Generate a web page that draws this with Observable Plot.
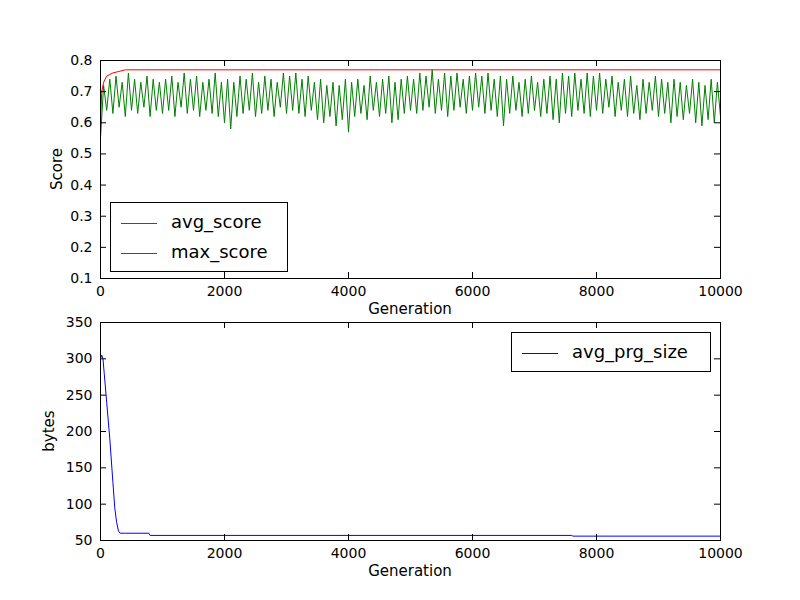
<!DOCTYPE html>
<html><head><meta charset="utf-8">
<script src="https://cdn.jsdelivr.net/npm/d3@7"></script>
<script src="https://cdn.jsdelivr.net/npm/@observablehq/plot@0.6"></script>
<style>
body{margin:0;background:#fff;font-family:"DejaVu Sans",sans-serif;}
#wrap{position:relative;width:800px;height:600px;}
.leg{position:absolute;background:#fff;border:1px solid #000;font-size:18px;padding:4px 10px;line-height:30px;}
.leg span.sw{display:inline-block;width:36px;height:0;border-top:1.3px solid;vertical-align:middle;margin-right:14px;}
svg{display:block}
</style></head><body><div id="wrap"></div>
<script>
const scoreStep = 50;
const avgScore = [0.55,0.72,0.64,0.74,0.63,0.75,0.65,0.73,0.62,0.76,0.64,0.74,0.63,0.73,0.65,0.75,0.62,0.74,0.64,0.73,0.63,
0.74,0.64,0.75,0.62,0.73,0.65,0.76,0.63,0.74,0.64,0.75,0.62,0.73,0.64,0.74,0.63,0.76,0.62,0.73,0.60,
0.74,0.58,0.73,0.62,0.75,0.63,0.74,0.64,0.76,0.62,0.73,0.63,0.75,0.64,0.74,0.62,0.73,0.65,0.76,0.63,
0.75,0.64,0.76,0.63,0.74,0.62,0.75,0.64,0.73,0.61,0.74,0.60,0.72,0.62,0.73,0.59,0.72,0.61,0.74,0.57,
0.73,0.62,0.74,0.63,0.72,0.61,0.75,0.64,0.73,0.62,0.74,0.63,0.75,0.60,0.73,0.61,0.74,0.63,0.75,0.64,
0.74,0.63,0.76,0.64,0.75,0.65,0.77,0.63,0.74,0.64,0.76,0.62,0.75,0.64,0.76,0.65,0.74,0.63,0.75,0.64,
0.76,0.65,0.75,0.63,0.76,0.64,0.74,0.62,0.75,0.59,0.74,0.63,0.75,0.64,0.73,0.62,0.74,0.63,0.75,0.64,
0.73,0.62,0.74,0.63,0.75,0.61,0.74,0.60,0.76,0.63,0.75,0.62,0.76,0.64,0.74,0.63,0.76,0.62,0.75,0.64,
0.76,0.63,0.74,0.65,0.75,0.62,0.73,0.64,0.74,0.62,0.75,0.63,0.72,0.61,0.74,0.63,0.73,0.64,0.75,0.62,
0.74,0.63,0.73,0.60,0.74,0.62,0.73,0.61,0.72,0.63,0.74,0.60,0.73,0.59,0.72,0.61,0.74,0.60,0.73,0.62];
const maxGen = [0,20,50,100,150,200,300,400,10000];
const maxScore = [0.60,0.70,0.73,0.75,0.755,0.76,0.765,0.77,0.77];
const sizeGen = [0,20,40,60,100,150,200,230,260,290,320,400,780,800,7600,7620,10000];
const sizeVal = [300,305,300,280,240,190,130,95,75,63,60,60,60,57,57,56,56];
const xTicks = [0,2000,4000,6000,8000,10000];
const yTicksTop = [0.1,0.2,0.3,0.4,0.5,0.6,0.7,0.8];
const yTicksBot = [50,100,150,200,250,300,350];

const scoreData = avgScore.map((v,i)=>({x:i*scoreStep,y:v}));
const maxData = maxGen.map((g,i)=>({x:g,y:maxScore[i]}));
const sizeData = sizeGen.map((g,i)=>({x:g,y:sizeVal[i]}));

function inTicks(yd){
  const ty=(yd[1]-yd[0])*6/218;
  return [
    Plot.ruleX(xTicks.slice(1,-1),{x:d=>d,y1:yd[0],y2:yd[0]+ty,stroke:"#000"}),
    Plot.ruleX(xTicks.slice(1,-1),{x:d=>d,y1:yd[1],y2:yd[1]-ty,stroke:"#000"}),
  ];
}
function yIn(ticks, xd, yd){
  const tx=(xd[1]-xd[0])*6/620;
  const t=ticks.filter(v=>v>yd[0]&&v<yd[1]);
  return [
    Plot.ruleY(t,{y:d=>d,x1:xd[0],x2:xd[0]+tx,stroke:"#000"}),
    Plot.ruleY(t,{y:d=>d,x1:xd[1],x2:xd[1]-tx,stroke:"#000"}),
  ];
}
const common = {width:800,height:300,marginLeft:100,marginRight:80,
  style:{fontFamily:"DejaVu Sans",fontSize:"14px",color:"#000"}};
const xd=[0,10000];
const topChart = Plot.plot({...common, marginTop:60, marginBottom:22,
  x:{domain:xd,ticks:xTicks,tickSize:0,tickPadding:8,tickFormat:d=>String(d),label:null},
  y:{domain:[0.1,0.8],ticks:yTicksTop,tickSize:0,tickPadding:8,tickFormat:d3.format(".1f"),label:null},
  marks:[
    Plot.line(scoreData,{x:"x",y:"y",stroke:"#008000",strokeWidth:1}),
    Plot.line(maxData,{x:"x",y:"y",stroke:"#ff0000",strokeWidth:1}),
    ...inTicks([0.1,0.8]), ...yIn(yTicksTop,xd,[0.1,0.8]),
    Plot.frame({stroke:"#000"})
  ]});
const botChart = Plot.plot({...common, marginTop:22, marginBottom:60,
  x:{domain:xd,ticks:xTicks,tickSize:0,tickPadding:8,tickFormat:d=>String(d),label:null},
  y:{domain:[50,350],ticks:yTicksBot,tickSize:0,tickPadding:8,label:null},
  marks:[
    Plot.line(sizeData,{x:"x",y:"y",stroke:"#0000ff",strokeWidth:1}),
    ...inTicks([50,350]), ...yIn(yTicksBot,xd,[50,350]),
    Plot.frame({stroke:"#000"})
  ]});
const w=document.getElementById("wrap");
w.append(topChart,botChart);
function txt(s,x,y,rot){const d=document.createElement("div");d.textContent=s;
 d.style.cssText=`position:absolute;font-size:15px;left:${x}px;top:${y}px;transform:translate(-50%,-50%)${rot?' rotate(-90deg)':''};white-space:nowrap;`;w.append(d);}
txt("Generation",410,309);txt("Generation",410,571);
txt("Score",57,169,true);txt("bytes",49,431,true);
function leg(items,l,t,wid){const d=document.createElement("div");d.className="leg";
 d.style.left=l+"px";d.style.top=t+"px";d.style.width=wid+"px";
 d.innerHTML=items.map(([n,c])=>`<div><span class="sw" style="border-color:${c}"></span>${n}</div>`).join("");w.append(d);}
leg([["avg_score","#008000"],["max_score","#ff0000"]],110,202,156);
leg([["avg_prg_size","#0000ff"]],511,332,178);
</script></body></html>
